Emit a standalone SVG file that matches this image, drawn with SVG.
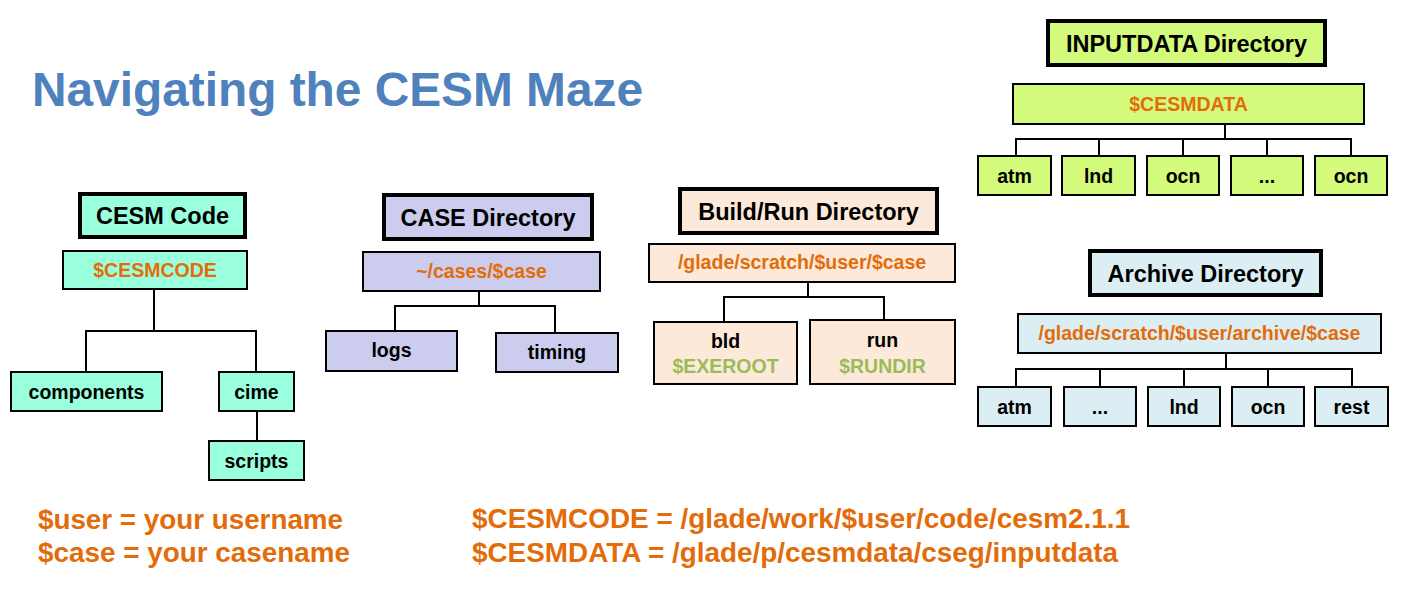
<svg xmlns="http://www.w3.org/2000/svg" width="1415" height="598" viewBox="0 0 1415 598">
<style>
text{font-family:"Liberation Sans",Arial,sans-serif;font-weight:bold;text-anchor:middle}
.ttl{font-size:23.5px;fill:#000}
.path{font-size:19.5px;fill:#E36C0A}
.lbl{font-size:19.5px;fill:#000}
.env{font-size:19.5px;fill:#9BBB59}
.hb{stroke:#000;stroke-width:4}
.nb{stroke:#000;stroke-width:2}
.aq{fill:#99FFDD}.lv{fill:#CCCCEE}.pc{fill:#FDE9D9}.lm{fill:#D3FA7A}.lb{fill:#DBEEF3}
.con{fill:none;stroke:#000;stroke-width:2}
.note{font-size:27px;fill:#E36C0A;text-anchor:start}
</style>
<rect width="1415" height="598" fill="#fff"/>
<text x="32" y="106" style="font-size:48px;fill:#4F81BD;text-anchor:start" textLength="611" lengthAdjust="spacingAndGlyphs">Navigating the CESM Maze</text>

<g id="connectors">
<polyline class="con" points="154,289 154,331"/>
<polyline class="con" points="86,372 86,331 256,331 256,372"/>
<polyline class="con" points="257,411 257,441"/>
<polyline class="con" points="479,291 479,306"/>
<polyline class="con" points="395,331 395,306 555,306 555,333"/>
<polyline class="con" points="808,282 808,297"/>
<polyline class="con" points="724,322 724,297 884,297 884,320"/>
<polyline class="con" points="1225,124 1225,139"/>
<polyline class="con" points="1016,156 1016,139 1351,139 1351,156"/>
<polyline class="con" points="1099,139 1099,156"/>
<polyline class="con" points="1183,139 1183,156"/>
<polyline class="con" points="1267,139 1267,156"/>
<polyline class="con" points="1226,353 1226,369"/>
<polyline class="con" points="1016,387 1016,369 1352,369 1352,387"/>
<polyline class="con" points="1100,369 1100,387"/>
<polyline class="con" points="1184,369 1184,387"/>
<polyline class="con" points="1268,369 1268,387"/>
</g>

<g id="cesm-code-title"><rect class="hb aq" x="80" y="194" width="165" height="43"/><text class="ttl" x="162.5" y="224">CESM Code</text></g>
<g id="cesmcode"><rect class="nb aq" x="63" y="251" width="184" height="38"/><text class="path" x="155" y="277">$CESMCODE</text></g>
<g id="components"><rect class="nb aq" x="11" y="372" width="151" height="39"/><text class="lbl" x="86.5" y="398.5">components</text></g>
<g id="cime"><rect class="nb aq" x="219" y="372" width="75" height="39"/><text class="lbl" x="256.5" y="398.5">cime</text></g>
<g id="scripts"><rect class="nb aq" x="209" y="441" width="95" height="39"/><text class="lbl" x="256.5" y="467.5">scripts</text></g>

<g id="case-title"><rect class="hb lv" x="384" y="195" width="208" height="44"/><text class="ttl" x="488" y="225.5">CASE Directory</text></g>
<g id="casedir"><rect class="nb lv" x="363" y="252" width="237" height="39"/><text class="path" x="481.5" y="278">~/cases/$case</text></g>
<g id="logs"><rect class="nb lv" x="326" y="331" width="131" height="40"/><text class="lbl" x="391.5" y="357">logs</text></g>
<g id="timing"><rect class="nb lv" x="496" y="333" width="122" height="39"/><text class="lbl" x="557" y="359">timing</text></g>

<g id="buildrun-title"><rect class="hb pc" x="680" y="189" width="257" height="44"/><text class="ttl" x="808.5" y="219.5">Build/Run Directory</text></g>
<g id="buildrun"><rect class="nb pc" x="649" y="244" width="306" height="38"/><text class="path" x="802" y="269">/glade/scratch/$user/$case</text></g>
<g id="bld"><rect class="nb pc" x="654" y="322" width="143" height="62"/><text class="lbl" x="725.5" y="348">bld</text><text class="env" x="725.5" y="373">$EXEROOT</text></g>
<g id="run"><rect class="nb pc" x="810" y="320" width="145" height="64"/><text class="lbl" x="882.5" y="347">run</text><text class="env" x="882.5" y="373">$RUNDIR</text></g>

<g id="inputdata-title"><rect class="hb lm" x="1048" y="21" width="277" height="44"/><text class="ttl" x="1186.5" y="51.5">INPUTDATA Directory</text></g>
<g id="cesmdata"><rect class="nb lm" x="1013" y="84" width="351" height="40"/><text class="path" x="1188.5" y="110.5">$CESMDATA</text></g>
<g id="in-atm"><rect class="nb lm" x="978" y="156" width="73" height="39"/><text class="lbl" x="1014.5" y="182.5">atm</text></g>
<g id="in-lnd"><rect class="nb lm" x="1062" y="156" width="73" height="39"/><text class="lbl" x="1098.5" y="182.5">lnd</text></g>
<g id="in-ocn"><rect class="nb lm" x="1147" y="156" width="72" height="39"/><text class="lbl" x="1183" y="182.5">ocn</text></g>
<g id="in-more"><rect class="nb lm" x="1231" y="156" width="72" height="39"/><text class="lbl" x="1267" y="182.5">...</text></g>
<g id="in-ocn2"><rect class="nb lm" x="1315" y="156" width="72" height="39"/><text class="lbl" x="1351" y="182.5">ocn</text></g>

<g id="archive-title"><rect class="hb lb" x="1090" y="251" width="231" height="44"/><text class="ttl" x="1205.5" y="281.5">Archive Directory</text></g>
<g id="archive"><rect class="nb lb" x="1018" y="314" width="363" height="39"/><text class="path" x="1199.5" y="340">/glade/scratch/$user/archive/$case</text></g>
<g id="ar-atm"><rect class="nb lb" x="978" y="387" width="73" height="39"/><text class="lbl" x="1014.5" y="413.5">atm</text></g>
<g id="ar-more"><rect class="nb lb" x="1064" y="387" width="72" height="39"/><text class="lbl" x="1100" y="413.5">...</text></g>
<g id="ar-lnd"><rect class="nb lb" x="1148" y="387" width="72" height="39"/><text class="lbl" x="1184" y="413.5">lnd</text></g>
<g id="ar-ocn"><rect class="nb lb" x="1232" y="387" width="72" height="39"/><text class="lbl" x="1268" y="413.5">ocn</text></g>
<g id="ar-rest"><rect class="nb lb" x="1315" y="387" width="73" height="39"/><text class="lbl" x="1351.5" y="413.5">rest</text></g>

<g id="notes">
<text class="note" x="38" y="529" textLength="305" lengthAdjust="spacingAndGlyphs">$user = your username</text>
<text class="note" x="38" y="562" textLength="312" lengthAdjust="spacingAndGlyphs">$case = your casename</text>
<text class="note" x="472" y="528" textLength="658" lengthAdjust="spacingAndGlyphs">$CESMCODE = /glade/work/$user/code/cesm2.1.1</text>
<text class="note" x="472" y="562" textLength="646" lengthAdjust="spacingAndGlyphs">$CESMDATA = /glade/p/cesmdata/cseg/inputdata</text>
</g>
</svg>
